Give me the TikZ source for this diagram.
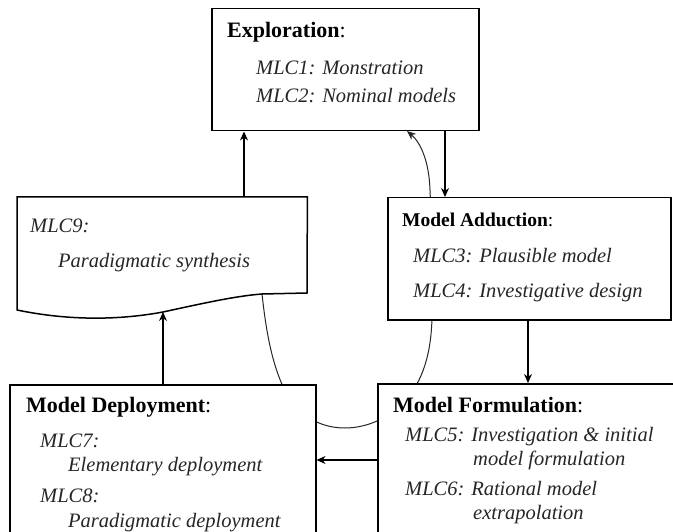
\documentclass[tikz,border=0pt]{standalone}
\usepackage{fontspec}
\setmainfont{Liberation Serif}
\usetikzlibrary{arrows.meta}
\begin{document}
\begin{tikzpicture}[x=1pt,y=-1pt,
  box/.style={draw, line width=1.5pt, fill=white, rectangle, inner sep=0pt, anchor=north west},
  head/.style={anchor=base west, inner sep=0pt, font=\fontsize{22}{26}\selectfont\bfseries},
  addhead/.style={anchor=base west, inner sep=0pt, font=\fontsize{19.5}{23}\selectfont\bfseries},
  item/.style={anchor=base west, inner sep=0pt, text=black!85, font=\fontsize{20.5}{24}\selectfont\itshape},
  arr/.style={line width=1.3pt, -{Stealth[length=9pt,width=8pt]}},
  cyc/.style={line width=1pt, black!85, -{Stealth[length=9pt,width=7.5pt]}}]
\useasboundingbox (0,0) rectangle (673,532);
\clip (0,0) rectangle (673,532);
\fill[white] (0,0) rectangle (673,532);

% helper coordinates for the straight connectors
\coordinate (a0) at (244,0);
\coordinate (a1) at (445,0);
\coordinate (a2) at (528,0);
\coordinate (a3) at (0,460);
\coordinate (w1) at (163,312);
\coordinate (w2) at (262,294);
\coordinate (cycEnd) at (407,131);

% the cycle curve running behind all boxes
\draw[cyc] (w2) .. controls (266,330) and (272,370) .. (290,400)
  .. controls (305,420) and (325,428) .. (345,428)
  .. controls (370,428) and (395,415) .. (410,395)
  .. controls (428,370) and (433,340) .. (432,300)
  .. controls (431,250) and (431,210) .. (430,190)
  .. controls (429,160) and (420,142) .. (cycEnd);

% boxes
\node[box, minimum width=267pt, minimum height=122pt] (expl) at (211,8) {};
\node[box, minimum width=283pt, minimum height=122pt] (add) at (387,197) {};
\node[box, minimum width=306pt, minimum height=200pt] (dep) at (9,384) {};
\node[box, minimum width=320pt, minimum height=200pt] (form) at (377,383) {};

% document shape with wavy bottom
\node[inner sep=0pt, minimum width=290pt, minimum height=96pt, anchor=north west] (synth) at (17,197) {};
\draw[line width=1.5pt, fill=white] (synth.north west) -- (synth.north east) -- (307,293) -- (w2)
  .. controls (235,296) and (200,304) .. (w1)
  .. controls (120,320) and (70,321) .. (17,310) -- cycle;

% connectors
\draw[arr] (synth.north -| a0) -- (expl.south -| a0);
\draw[arr] (expl.south -| a1) -- (add.north -| a1);
\draw[arr] (add.south -| a2) -- (form.north -| a2);
\draw[arr] (form.west |- a3) -- (dep.east |- a3);
\draw[arr] (dep.north -| w1) -- (w1);

% texts
\node[head] (explH) at (227,38) {Exploration\textmd{:}};
\node[item] (mlc1) at (256,75) {MLC1: Monstration};
\node[item] (mlc2) at (256,103) {MLC2: Nominal models};

\node[addhead] (addH) at (402,227) {Model Adduction\textmd{:}};
\node[item] (mlc3) at (413,263) {MLC3: Plausible model};
\node[item] (mlc4) at (413,298) {MLC4: Investigative design};

\node[item] (mlc9a) at (30,233) {MLC9:};
\node[item] (mlc9b) at (58,268) {Paradigmatic synthesis};

\node[head] (depH) at (26,412) {Model Deployment\textmd{:}};
\node[item] (mlc7a) at (40,447) {MLC7:};
\node[item] (mlc7b) at (68,471) {Elementary deployment};
\node[item] (mlc8a) at (40,502) {MLC8:};
\node[item] (mlc8b) at (68,527) {Paradigmatic deployment};

\node[head] (formH) at (393,412) {Model Formulation\textmd{:}};
\node[item] (mlc5a) at (405,441) {MLC5: Investigation \& initial};
\node[item] (mlc5b) at (473,465) {model formulation};
\node[item] (mlc6a) at (405,495) {MLC6: Rational model};
\node[item] (mlc6b) at (473,519) {extrapolation};
\end{tikzpicture}
\end{document}
